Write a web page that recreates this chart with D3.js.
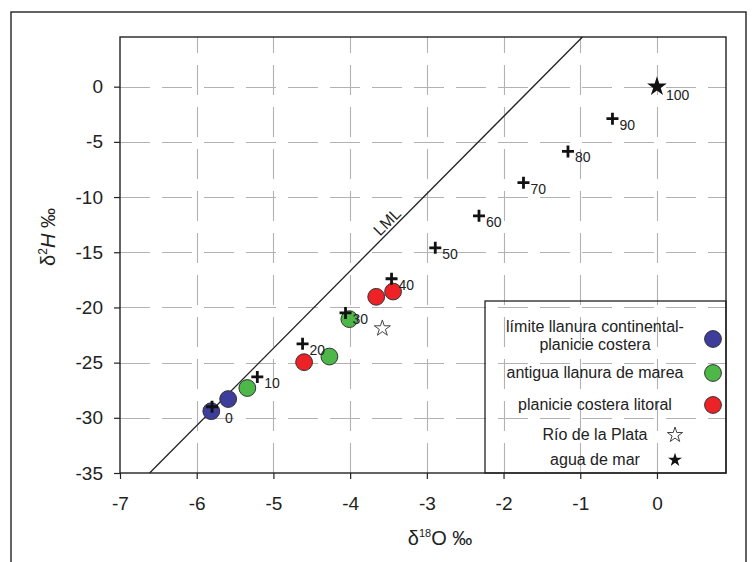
<!DOCTYPE html>
<html>
<head>
<meta charset="utf-8">
<script src="https://cdn.jsdelivr.net/npm/d3@7"></script>
<style>
  body { margin: 0; background: #fff; }
  text { font-family: "Liberation Sans", Arial, sans-serif; fill: #222; }
</style>
</head>
<body>
<div id="chart"></div>
<script>
// tick values
var xTicks = [-7, -6, -5, -4, -3, -2, -1, 0];
var yTicks = [0, -5, -10, -15, -20, -25, -30, -35];

// local meteoric line: d2H = slope * d18O + intercept
var lmlSlope = 7.0;
var lmlIntercept = 11.3;

// mixing line (fraction of sea water, %)
var mixPct = [0, 10, 20, 30, 40, 50, 60, 70, 80, 90];
var mixO = [-5.8, -5.21, -4.62, -4.06, -3.46, -2.89, -2.32, -1.74, -1.16, -0.58];
var mixH = [-29.0, -26.3, -23.3, -20.5, -17.4, -14.6, -11.7, -8.7, -5.87, -2.9];

// samples
var limiteO = [-5.81, -5.59];
var limiteH = [-29.4, -28.3];
var antiguaO = [-5.34, -4.27, -4.01];
var antiguaH = [-27.3, -24.45, -21.06];
var litoralO = [-4.6, -3.66, -3.44];
var litoralH = [-24.96, -19.04, -18.56];
var rioO = [-3.58];
var rioH = [-21.9];
var marO = [0];
var marH = [0];

var groups = [
  { name: ["límite llanura continental-", "planicie costera"], o: limiteO, h: limiteH, color: "#3d3d9b" },
  { name: ["antigua llanura de marea"], o: antiguaO, h: antiguaH, color: "#4db848" },
  { name: ["planicie costera litoral"], o: litoralO, h: litoralH, color: "#ec2227" }
];

var W = 755, H = 562;
var margin = { left: 120, right: 29, top: 37, bottom: 89 };

var svg = d3.select("#chart").append("svg")
  .attr("width", W)
  .attr("height", H);

// outer frame
svg.append("rect")
  .attr("x", 11).attr("y", 12)
  .attr("width", 735).attr("height", 570)
  .attr("fill", "none")
  .attr("stroke", "#222")
  .attr("stroke-width", 1.4);

var x = d3.scaleLinear().domain([-7, 0.9]).range([margin.left, W - margin.right]);
var y = d3.scaleLinear().domain([-35, 4.5]).range([H - margin.bottom, margin.top]);

// grid
var grid = svg.append("g").attr("class", "grid");
grid.selectAll("line.vgrid")
  .data(xTicks.slice(1))
  .enter()
  .append("line")
  .attr("class", "vgrid")
  .attr("x1", function (d) { return Math.round(x(d)) + 0.5; })
  .attr("x2", function (d) { return Math.round(x(d)) + 0.5; })
  .attr("y1", y.range()[0])
  .attr("y2", y.range()[1])
  .attr("stroke", "#b2b2b2")
  .attr("stroke-width", 1.1)
  .attr("stroke-dasharray", "30,12");

grid.selectAll("line.hgrid")
  .data(yTicks.slice(0, -1))
  .enter()
  .append("line")
  .attr("class", "hgrid")
  .attr("x1", x.range()[0])
  .attr("x2", x.range()[1])
  .attr("y1", function (d) { return Math.round(y(d)) + 0.5; })
  .attr("y2", function (d) { return Math.round(y(d)) + 0.5; })
  .attr("stroke", "#b2b2b2")
  .attr("stroke-width", 1.1)
  .attr("stroke-dasharray", "30,12");

var plot = svg.append("g");

// axes
var xAxis = svg.append("g")
  .attr("transform", "translate(0," + y.range()[0] + ")")
  .call(d3.axisBottom(x).tickValues(xTicks).tickSize(6).tickPadding(18).tickFormat(d3.format("d")));
var yAxis = svg.append("g")
  .attr("transform", "translate(" + x.range()[0] + ",0)")
  .call(d3.axisLeft(y).tickValues(yTicks).tickSize(6).tickPadding(11).tickFormat(d3.format("d")));

[xAxis, yAxis].forEach(function (a) {
  a.select(".domain").remove();
  a.selectAll("line").attr("stroke", "#222").attr("stroke-width", 1.2);
  a.selectAll("text")
    .style("font-family", "'Liberation Sans', Arial, sans-serif")
    .style("font-size", "19px")
    .attr("fill", "#222")
    .text(function (d) { return d3.format("d")(d).replace("−", "-"); });
});

// plot frame
svg.append("rect")
  .attr("x", x.range()[0])
  .attr("y", y.range()[1])
  .attr("width", x.range()[1] - x.range()[0])
  .attr("height", y.range()[0] - y.range()[1])
  .attr("fill", "none")
  .attr("stroke", "#222")
  .attr("stroke-width", 1.4);

// LML line, clipped to the plot box
var lmlX0 = (y.domain()[0] - lmlIntercept) / lmlSlope;
var lmlX1 = (y.domain()[1] - lmlIntercept) / lmlSlope;
plot.append("line")
  .attr("x1", x(lmlX0)).attr("y1", y(lmlSlope * lmlX0 + lmlIntercept))
  .attr("x2", x(lmlX1)).attr("y2", y(lmlSlope * lmlX1 + lmlIntercept))
  .style("stroke", "#222")
  .style("stroke-width", 1.3);

var lmlLabelO = -3.44;
var ang = Math.atan2(y(lmlSlope * lmlX1 + lmlIntercept) - y(lmlSlope * lmlX0 + lmlIntercept),
  x(lmlX1) - x(lmlX0)) * 180 / Math.PI;
plot.append("text")
  .attr("transform", "translate(" + x(lmlLabelO) + "," + y(lmlSlope * lmlLabelO + lmlIntercept) + ") rotate(" + ang + ")")
  .attr("text-anchor", "middle")
  .attr("dy", -3)
  .style("font-size", "16px")
  .text("LML");

// sample circles
groups.forEach(function (g) {
  plot.selectAll(null)
    .data(d3.range(g.o.length))
    .enter()
    .append("circle")
    .attr("cx", function (i) { return x(g.o[i]); })
    .attr("cy", function (i) { return y(g.h[i]); })
    .attr("r", 8.4)
    .style("fill", g.color)
    .style("stroke", "#333")
    .style("stroke-width", 1);
});

// Rio de la Plata (hollow star)
plot.selectAll(null)
  .data(d3.range(rioO.length))
  .enter()
  .append("path")
  .attr("d", d3.symbol().type(d3.symbolStar).size(80))
  .attr("transform", function (i) { return "translate(" + x(rioO[i]) + "," + y(rioH[i]) + ")"; })
  .style("fill", "#fff")
  .style("stroke", "#444")
  .style("stroke-width", 1);

// mixing line crosses
var mix = plot.selectAll(".mix")
  .data(d3.range(mixPct.length))
  .enter()
  .append("g")
  .attr("transform", function (i) { return "translate(" + x(mixO[i]) + "," + y(mixH[i]) + ")"; });
mix.append("path")
  .attr("d", "M-6,0H6M0,-6V6")
  .style("stroke", "#111")
  .style("stroke-width", 2.8);
mix.append("text")
  .attr("x", function (i) { return i === 0 ? 13 : 7; })
  .attr("y", function (i) { return i === 0 ? 16 : 11; })
  .style("font-size", "14px")
  .attr("fill", "#333")
  .text(function (i) { return mixPct[i]; });

// sea water (filled star)
var sea = plot.selectAll(".sea")
  .data(d3.range(marO.length))
  .enter()
  .append("g")
  .attr("transform", function (i) { return "translate(" + x(marO[i]) + "," + y(marH[i]) + ")"; });
sea.append("path")
  .attr("d", d3.symbol().type(d3.symbolStar).size(120))
  .style("fill", "#111");
sea.append("text")
  .attr("x", 9)
  .attr("y", 13)
  .style("font-size", "14px")
  .attr("fill", "#333")
  .text("100");

// legend
var legend = svg.append("g");
legend.append("rect")
  .attr("x", 485)
  .attr("y", 301)
  .attr("width", x.range()[1] - 485)
  .attr("height", y.range()[0] - 301)
  .attr("fill", "none")
  .attr("stroke", "#222")
  .attr("stroke-width", 1.3);

var legendRows = [
  { label: groups[0].name, y: 339, kind: "circle", color: groups[0].color },
  { label: groups[1].name, y: 373, kind: "circle", color: groups[1].color },
  { label: groups[2].name, y: 405, kind: "circle", color: groups[2].color },
  { label: ["Río de la Plata"], y: 435, kind: "open" },
  { label: ["agua de mar"], y: 460, kind: "filled" }
];

legendRows.forEach(function (r) {
  var n = r.label.length;
  r.label.forEach(function (line, k) {
    legend.append("text")
      .attr("x", 595)
      .attr("y", r.y - (n - 1) * 9 + k * 18 + 5 - (n > 1 ? 3 : 0))
      .attr("text-anchor", "middle")
      .style("font-size", "16px")
      .text(line);
  });
  if (r.kind === "circle") {
    legend.append("circle")
      .attr("cx", 713).attr("cy", r.y).attr("r", 8.4)
      .style("fill", r.color)
      .style("stroke", "#333")
      .style("stroke-width", 1);
  } else {
    legend.append("path")
      .attr("d", d3.symbol().type(d3.symbolStar).size(r.kind === "open" ? 72 : 60))
      .attr("transform", "translate(675," + r.y + ")")
      .style("fill", r.kind === "open" ? "#fff" : "#111")
      .style("stroke", r.kind === "open" ? "#444" : "none")
      .style("stroke-width", 1);
  }
});

// axis titles
var xt = svg.append("text")
  .attr("x", 440)
  .attr("y", 545)
  .attr("text-anchor", "middle")
  .style("font-size", "20px");
xt.append("tspan").text("δ");
xt.append("tspan").attr("dy", -8).style("font-size", "11px").text("18");
xt.append("tspan").attr("dy", 8).text("O ‰");

var yt = svg.append("text")
  .attr("transform", "translate(55,237) rotate(-90)")
  .attr("text-anchor", "middle")
  .style("font-size", "20px");
yt.append("tspan").text("δ");
yt.append("tspan").attr("dy", -8).style("font-size", "12px").text("2");
yt.append("tspan").attr("dy", 8).style("font-style", "italic").text("H");
yt.append("tspan").text(" ‰");
</script>
</body>
</html>
